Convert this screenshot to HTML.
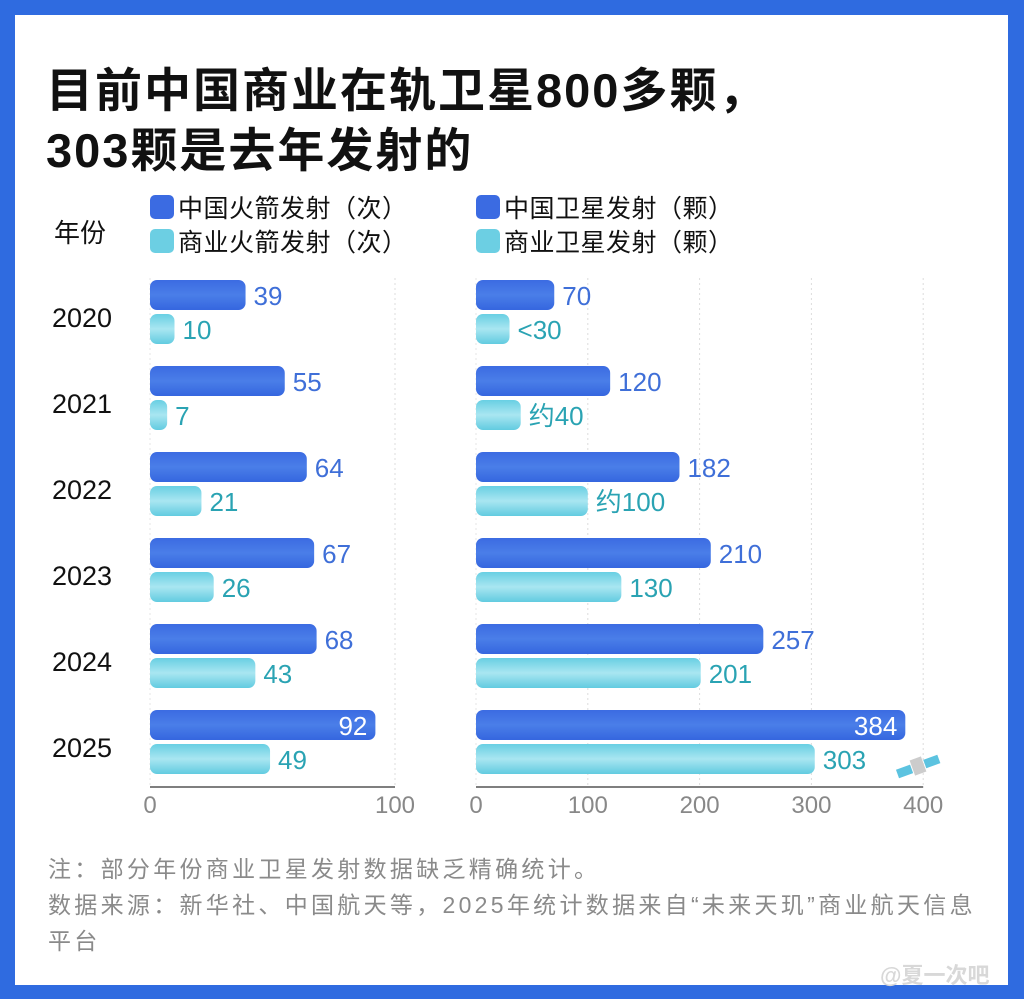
<!DOCTYPE html>
<html><head><meta charset="utf-8">
<style>
html,body{margin:0;padding:0;}
body{width:1024px;height:999px;background:#2f6be0;position:relative;overflow:hidden;font-family:"Liberation Sans","Noto Sans CJK SC",sans-serif;}
#card{position:absolute;left:15px;top:15px;width:993px;height:970px;background:#fff;}
.title{position:absolute;left:46px;font-size:47px;font-weight:bold;color:#111;letter-spacing:2px;white-space:nowrap;}
.foot{position:absolute;left:48px;font-size:23px;color:#8a8a8a;letter-spacing:3.3px;white-space:nowrap;}
</style></head><body>
<div id="card"></div>
<div class="title" style="top:52px">目前中国商业在轨卫星800多颗，</div>
<div class="title" style="top:112px">303颗是去年发射的</div>
<svg id="chart" width="1024" height="999" style="position:absolute;left:0;top:0">
<defs>
<linearGradient id="gb" x1="0" y1="0" x2="0" y2="1"><stop offset="0" stop-color="#3b6be2"/><stop offset="0.5" stop-color="#4a7ee8"/><stop offset="1" stop-color="#3566df"/></linearGradient>
<linearGradient id="gc" x1="0" y1="0" x2="0" y2="1"><stop offset="0" stop-color="#68cfe3"/><stop offset="0.5" stop-color="#a9e6f1"/><stop offset="1" stop-color="#62cbe0"/></linearGradient>
</defs>
</svg>
<div class="foot" style="top:850px">注：部分年份商业卫星发射数据缺乏精确统计。</div>
<div class="foot" style="top:886px">数据来源：新华社、中国航天等，2025年统计数据来自“未来天玑”商业航天信息</div>
<div class="foot" style="top:922px">平台</div>
<div style="position:absolute;left:880px;top:958px;font-size:22px;color:#d8d8d8;font-weight:bold">@夏一次吧</div>
<script>
const years=["2020","2021","2022","2023","2024","2025"];
const cnRocket=[39,55,64,67,68,92];
const comRocket=[10,7,21,26,43,49];
const cnSat=[70,120,182,210,257,384];
const comSat=[30,40,100,130,201,303];
const comSatLabels=["<30","约40","约100","130","201","303"];
const leftTicks=[0,100];
const rightTicks=[0,100,200,300,400];
const NS="http://www.w3.org/2000/svg";
const svg=document.getElementById('chart');
function mk(t,a,txt){const e=document.createElementNS(NS,t);for(const k in a)e.setAttribute(k,a[k]);if(txt!==undefined)e.textContent=txt;svg.appendChild(e);return e;}
const xL=v=>150+v*2.45;
const xR=v=>476+v*1.118;
const rowY=i=>280+i*86;
const F='"Liberation Sans","Noto Sans CJK SC",sans-serif';
const leg=[[150,195,"#3b6be2","中国火箭发射（次）"],[150,229,"#6ccfe3","商业火箭发射（次）"],[476,195,"#3b6be2","中国卫星发射（颗）"],[476,229,"#6ccfe3","商业卫星发射（颗）"]];
leg.forEach(l=>{
 const r=mk('rect',{x:l[0],y:l[1],width:24,height:24,rx:5,fill:l[2]});
 
 
 const t=mk('text',{x:l[0]+28,y:l[1]+22,'font-size':25,fill:'#111','font-family':F,'letter-spacing':'0.5'},l[3]);
 
 
});
const yh=mk('text',{x:54,y:242,'font-size':26,fill:'#111','font-family':F},"年份");


function grid(sc,ticks){ticks.forEach(t=>{if(t===0)return;const g=mk('line',{x1:sc(t),x2:sc(t),y1:278,y2:787,stroke:'#ddd','stroke-dasharray':'2,3'});});
 const a=mk('line',{x1:sc(0),x2:sc(ticks[ticks.length-1]),y1:787,y2:787,stroke:'#555','stroke-width':1.5});
 const z=mk('line',{x1:sc(0),x2:sc(0),y1:278,y2:787,stroke:'#e4e4e4','stroke-dasharray':'2,3'});
 ticks.forEach(t=>{const e=mk('text',{x:sc(t),y:813,'font-size':24,fill:'#888','text-anchor':'middle','font-family':F},String(t));});}
grid(xL,leftTicks);grid(xR,rightTicks);
function bar(sc,v,y,fill,name,lbl,col,inside){
 const r=mk('rect',{x:sc(0),y:y,width:sc(v)-sc(0),height:30,rx:7,fill:fill});
 
 
 const t=inside?mk('text',{x:sc(v)-8,y:y+25,'font-size':26,fill:'#fff','text-anchor':'end','font-family':F},lbl):mk('text',{x:sc(v)+8,y:y+25,'font-size':26,fill:col,'font-family':F},lbl);
 
 
}
years.forEach((yr,i)=>{
 const y=rowY(i);
 const t=mk('text',{x:52,y:y+47,'font-size':27,fill:'#111','font-family':F},yr);
 
 
 bar(xL,cnRocket[i],y,'url(#gb)','china-rocket-bar',String(cnRocket[i]),'#3f6fd8',i===5);
 bar(xL,comRocket[i],y+34,'url(#gc)','commercial-rocket-bar',String(comRocket[i]),'#2aa3b3',false);
 bar(xR,cnSat[i],y,'url(#gb)','china-satellite-bar',String(cnSat[i]),'#3f6fd8',i===5);
 bar(xR,comSat[i],y+34,'url(#gc)','commercial-satellite-bar',comSatLabels[i],'#2aa3b3',false);
});
const g=document.createElementNS(NS,'g');
g.setAttribute('transform','translate(918,766) rotate(-20)');


g.innerHTML='<rect x="-22" y="-4" width="15" height="9" fill="#5cc3e0"/><rect x="7" y="-4" width="15" height="9" fill="#5cc3e0"/><rect x="-6" y="-8" width="12" height="16" fill="#ccc"/>';
svg.appendChild(g);
</script>
</body></html>
